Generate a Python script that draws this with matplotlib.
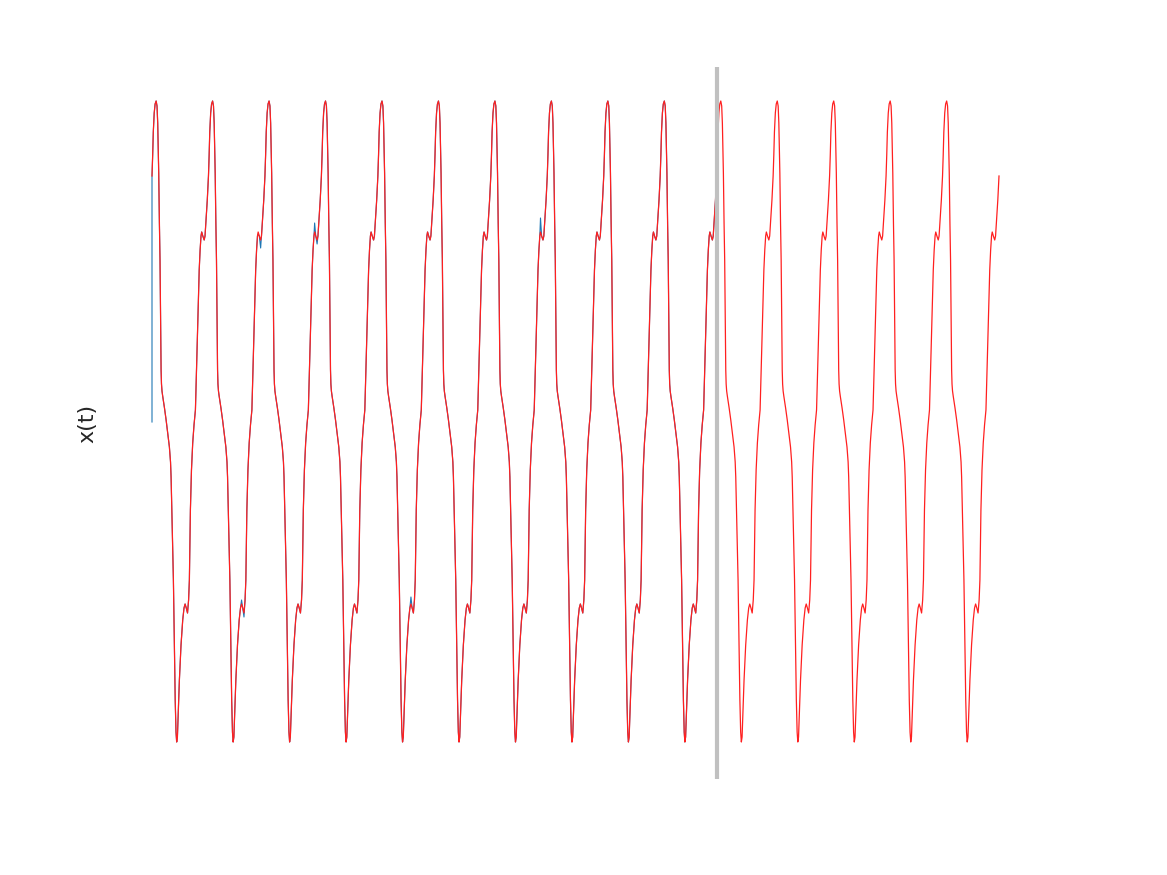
import numpy as np
import matplotlib
matplotlib.use("Agg")
import matplotlib.pyplot as plt

# one cycle of the oscillation (phase in periods, value)
cycle_phase = [0.000, 0.012, 0.023, 0.039, 0.055, 0.073, 0.089, 0.101, 0.119, 0.131,
               0.142, 0.152, 0.161, 0.168, 0.177, 0.189, 0.221, 0.250, 0.283, 0.308,
               0.328, 0.338, 0.358, 0.379, 0.395, 0.411, 0.425, 0.437, 0.450, 0.466,
               0.485, 0.514, 0.544, 0.567, 0.586, 0.607, 0.629, 0.648, 0.662, 0.673,
               0.680, 0.699, 0.721, 0.744, 0.769, 0.788, 0.815, 0.836, 0.852, 0.868,
               0.880, 0.900, 0.924, 0.939, 0.954, 0.979]
cycle_value = [2.46, 2.67, 2.90, 3.09, 3.18, 3.21, 3.16, 2.99, 2.49, 1.99,
               1.62, 1.02, 0.52, 0.38, 0.31, 0.26, 0.14, 0.02, -0.13, -0.25,
               -0.40, -0.55, -1.03, -1.58, -2.18, -2.78, -3.10, -3.20, -3.15, -2.90,
               -2.58, -2.23, -1.98, -1.86, -1.82, -1.86, -1.91, -1.78, -1.58, -1.18,
               -0.88, -0.48, -0.21, -0.03, 0.12, 0.52, 1.12, 1.52, 1.72, 1.86,
               1.90, 1.86, 1.82, 1.86, 1.99, 2.22]

n_cycles_model = 15     # red curve
n_cycles_data = 10      # blue curve, ends at the grey line
t_split = 10.0

# places where the measured (blue) curve departs a little from the model
glitch_cycle = [1, 1, 2, 2, 6, 1, 1, 4]
glitch_phase = [0.880, 0.924, 0.880, 0.924, 0.880, 0.586, 0.629, 0.586]
glitch_value = [1.88, 1.74, 1.99, 1.78, 2.04, -1.78, -1.95, -1.75]


def build_series(n):
    ph = np.array(cycle_phase)
    t = np.concatenate([k + ph for k in range(n)] + [[float(n)]])
    v = np.concatenate([np.array(cycle_value)] * n + [[cycle_value[0]]])
    return t, v


t_model, x_model = build_series(n_cycles_model)
t_data, x_data = build_series(n_cycles_data)
# data starts from x=0
t_data = np.concatenate([[0.0], t_data])
x_data = np.concatenate([[0.0], x_data])
for c, p, val in zip(glitch_cycle, glitch_phase, glitch_value):
    idx = 1 + c * len(cycle_phase) + int(np.argmin(np.abs(np.array(cycle_phase) - p)))
    x_data[idx] = val

fig = plt.figure(figsize=(11.67, 8.75), dpi=100)
ax = fig.add_axes([152 / 1167, 96 / 875, 847 / 1167, 712 / 875])

ax.plot(t_data, x_data, color="#1f77b4", lw=0.8, clip_on=False)
ax.plot(t_model, x_model, color="#ff2020", lw=0.9, clip_on=False)
ax.axvline(t_split, color="#c0c0c0", lw=3)

ax.set_xlim(0, n_cycles_model)
ax.set_ylim(-3.57, 3.55)
ax.set_xticks([])
ax.set_yticks([])
for s in ax.spines.values():
    s.set_visible(False)

ax.set_ylabel("x(t)", fontsize=16, color="#262626")
ax.yaxis.set_label_coords(-0.064, 0.5)

fig.savefig("out.png", dpi=100)
